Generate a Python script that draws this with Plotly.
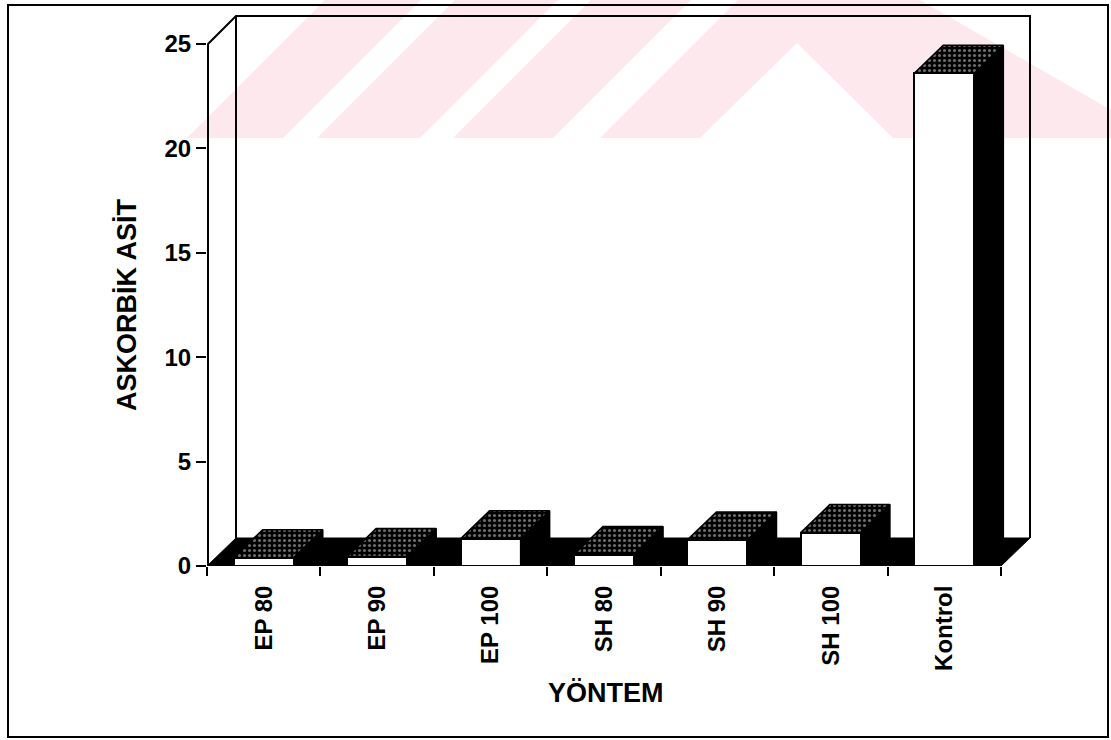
import plotly.graph_objects as go

# ---- data ----
categories = ["EP 80", "EP 90", "EP 100", "SH 80", "SH 90", "SH 100", "Kontrol"]
values = [0.4, 0.45, 1.3, 0.55, 1.25, 1.6, 23.6]
y_ticks = [0, 5, 10, 15, 20, 25]
y_title = "ASKORBİK ASİT"
x_title = "YÖNTEM"

# ---- layout constants (pixels) ----
W, H = 1111, 740
ML, MT = 207, 8
X_LEFT_PX, X_RIGHT_PX = 207, 1001
Y0_PX, YTOP_PX = 566, 44
PLOT_RIGHT_PX = 1045
n = len(categories)
Y_MAX_TICK = y_ticks[-1]
sx = (X_RIGHT_PX - X_LEFT_PX) / n
sy = (Y0_PX - YTOP_PX) / Y_MAX_TICK
xmin = -0.5
xlast = n - 0.5
xmax = xlast + (PLOT_RIGHT_PX - X_RIGHT_PX) / sx
ymax = Y_MAX_TICK + (YTOP_PX - MT) / sy
MR = W - PLOT_RIGHT_PX
MB = H - Y0_PX
PW = W - ML - MR
PH = H - MT - MB
OX = 29 / sx          # depth offset (x units)
OY = 28 / sy          # depth offset (y units)
BW = 0.53             # bar width (category units)
FONT = "Arial, Liberation Sans, Helvetica, sans-serif"
PINK = "rgb(253,233,237)"

pos = list(range(n))


def pp(xpx, ypx):
    """figure pixel -> paper coordinates"""
    return (xpx - ML) / PW, 1 - (ypx - MT) / PH


def paper_path(points):
    s = ""
    for i, (a, b) in enumerate(points):
        x, y = pp(a, b)
        s += ("M" if i == 0 else "L") + f"{x:.5f},{y:.5f} "
    return s + "Z"


shapes = []

# ---- watermark (pale pink) ----
shapes.append(dict(type="path", xref="paper", yref="paper", layer="below",
                   path=paper_path([(187, 138), (325, 0), (920, 0), (1111, 110), (1111, 138)]),
                   fillcolor=PINK, line=dict(width=0)))
for a, b in [(283, 317), (420, 453), (553, 600)]:
    shapes.append(dict(type="path", xref="paper", yref="paper", layer="below",
                       path=paper_path([(a, 138), (b, 138), (b + 138, 0), (a + 138, 0)]),
                       fillcolor="white", line=dict(width=0)))
shapes.append(dict(type="path", xref="paper", yref="paper", layer="below",
                   path=paper_path([(700, 138), (797, 43), (893, 138)]),
                   fillcolor="white", line=dict(width=0)))

# ---- page frame ----
x0f, y0f = pp(8, 737)
x1f, y1f = pp(1108, 5)
shapes.append(dict(type="rect", xref="paper", yref="paper", layer="below",
                   x0=x0f, y0=y0f, x1=x1f, y1=y1f,
                   line=dict(color="black", width=2), fillcolor="rgba(0,0,0,0)"))

# ---- 3D box: floor (black) and back walls ----
shapes.append(dict(type="path", xref="x", yref="y", layer="below",
                   path=f"M{xmin},0 L{xlast},0 L{xlast+OX},{OY} L{xmin+OX},{OY} Z",
                   fillcolor="black", line=dict(color="black", width=1)))
shapes.append(dict(type="path", xref="x", yref="y", layer="below",
                   path=(f"M{xmin+1/sx},0 L{xmin+1/sx},{Y_MAX_TICK} L{xmin+OX},{Y_MAX_TICK+OY} "
                         f"L{xlast+OX},{Y_MAX_TICK+OY} L{xlast+OX},{OY}"),
                   line=dict(color="black", width=2)))
shapes.append(dict(type="path", xref="x", yref="y", layer="below",
                   path=f"M{xmin+OX},{OY} L{xmin+OX},{Y_MAX_TICK+OY}",
                   line=dict(color="black", width=2)))

fig = go.Figure()

# front faces of bars
fig.add_trace(go.Bar(x=pos, y=values, width=BW,
                     marker=dict(color="white", line=dict(color="black", width=2)),
                     hoverinfo="skip", showlegend=False))

# side faces and top faces built from the values
sxs, sys_, txs, tys = [], [], [], []
for p, v in zip(pos, values):
    xl, xr = p - BW / 2, p + BW / 2
    sxs += [xr, xr + OX, xr + OX, xr, xr, None]
    sys_ += [0, OY, v + OY, v, 0, None]
    txs += [xl, xr, xr + OX, xl + OX, xl, None]
    tys += [v, v, v + OY, v + OY, v, None]

fig.add_trace(go.Scatter(x=sxs, y=sys_, mode="lines", fill="toself",
                         fillcolor="black", line=dict(color="black", width=1.5),
                         hoverinfo="skip", showlegend=False))
fig.add_trace(go.Scatter(x=txs, y=tys, mode="lines", fill="toself",
                         fillcolor="black",
                         fillpattern=dict(shape=".", bgcolor="black", fgcolor="#d8d8d8",
                                          size=5, solidity=0.3),
                         line=dict(color="black", width=1.5),
                         hoverinfo="skip", showlegend=False))

# invisible trace to carry the boundary-tick axis
fig.add_trace(go.Scatter(x=[xmin], y=[0], xaxis="x2", mode="markers",
                         marker=dict(opacity=0), hoverinfo="skip", showlegend=False))

tickfont = dict(family=FONT, size=24, color="black", weight="bold")

fig.update_layout(
    width=W, height=H,
    margin=dict(l=ML, r=MR, t=MT, b=MB, pad=0),
    paper_bgcolor="white", plot_bgcolor="rgba(0,0,0,0)",
    showlegend=False, bargap=0,
    shapes=shapes,
    xaxis=dict(range=[xmin, xmax], tickmode="array", tickvals=pos, ticktext=categories,
               tickangle=-90, ticks="outside", ticklen=9, tickcolor="rgba(0,0,0,0)",
               showgrid=False, zeroline=False, showline=False, tickfont=tickfont,
               fixedrange=True),
    xaxis2=dict(range=[xmin, xmax], overlaying="x", anchor="y", side="bottom",
                tickmode="array", tickvals=[i - 0.5 for i in range(n + 1)],
                ticks="outside", ticklen=9, tickwidth=2, tickcolor="black",
                showticklabels=False, showgrid=False, zeroline=False, showline=False),
    yaxis=dict(range=[0, ymax], tickmode="array", tickvals=y_ticks,
               ticks="outside", ticklen=10, tickwidth=2, tickcolor="black",
               showgrid=False, zeroline=False, showline=False, tickfont=tickfont),
)

ax, ay = pp(127, 305)
bx, by = pp(606, 693)
titlefont = dict(family=FONT, size=27, color="black", weight="bold")
fig.add_annotation(x=ax, y=ay, xref="paper", yref="paper", text=y_title, textangle=-90,
                   showarrow=False, xanchor="center", yanchor="middle", font=titlefont)
fig.add_annotation(x=bx, y=by, xref="paper", yref="paper", text=x_title,
                   showarrow=False, xanchor="center", yanchor="middle", font=titlefont)

fig.write_html("out.html")
